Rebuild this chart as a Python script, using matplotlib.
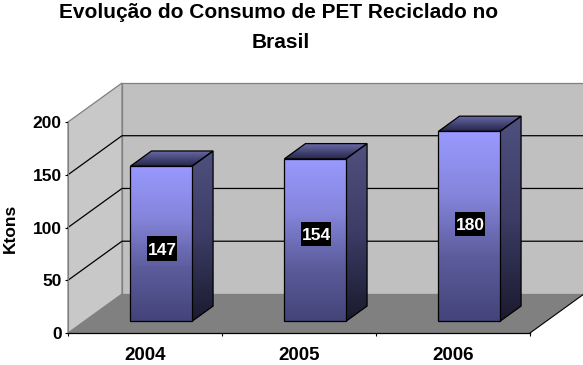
import matplotlib

matplotlib.use("Agg")

import matplotlib.pyplot as plt
import numpy as np
from matplotlib.colors import LinearSegmentedColormap
from matplotlib.patches import Polygon, Rectangle

plt.rcParams["font.family"] = ["Liberation Sans", "DejaVu Sans"]

years = ["2004", "2005", "2006"]
consumo = [147, 154, 180]
label_heights = [80, 94, 103]
y_ticks = [0, 50, 100, 150, 200]

W, H = 583, 365
# depth of the fake 3D box, in data units
DEPTH_X = 54 / 154
DEPTH_Y = 37.0
BAR_WIDTH = 0.40
BAR_D0, BAR_D1 = 0.30, 0.69
LABEL_W, LABEL_H = 0.19, 23

front_cmap = LinearSegmentedColormap.from_list("front", ["#9999ff", "#8585dc", "#5c5c9c", "#44447a"])
side_cmap = LinearSegmentedColormap.from_list("side", ["#50507f", "#3c3c66", "#1a1a2e"])
top_cmap = LinearSegmentedColormap.from_list("top", ["#6c6cac", "#26264a"])


def proj(x, y, d):
    return (x + d * DEPTH_X, y + d * DEPTH_Y)


def gradient_poly(ax, fig, pts, cmap, zorder):
    """Fill a polygon with a vertical gradient."""
    pts = np.array(pts)
    poly = Polygon(pts, closed=True, facecolor="none", edgecolor="black", linewidth=0.9, zorder=zorder + 0.1, clip_on=False)
    ax.add_patch(poly)
    grad = np.linspace(0, 1, 128).reshape(-1, 1)
    im = ax.imshow(
        grad,
        cmap=cmap,
        aspect="auto",
        origin="upper",
        extent=(pts[:, 0].min(), pts[:, 0].max(), pts[:, 1].min(), pts[:, 1].max()),
        zorder=zorder,
    )
    im.set_clip_path(poly)
    im.set_clip_box(fig.bbox)


fig = plt.figure(figsize=(W / 100, H / 100), dpi=100, facecolor="white")
ax = fig.add_axes([68 / W, 1 - 333 / H, 462 / W, 211 / H])
ax.patch.set_visible(False)

# walls and floor
wall_style = dict(closed=True, edgecolor="#808080", linewidth=0.9, clip_on=False, zorder=1)
ax.add_patch(Polygon([proj(0, 0, 1), proj(3, 0, 1), proj(3, 200, 1), proj(0, 200, 1)], facecolor="#c0c0c0", **wall_style))
ax.add_patch(Polygon([proj(0, 0, 0), proj(0, 0, 1), proj(0, 200, 1), proj(0, 200, 0)], facecolor="#c8c8c8", **wall_style))
ax.add_patch(Polygon([proj(0, 0, 0), proj(3, 0, 0), proj(3, 0, 1), proj(0, 0, 1)], facecolor="#808080", closed=True, edgecolor="none", clip_on=False, zorder=1))
x_edge, y_edge = zip(proj(3, 0, 0), proj(3, 0, 1))
ax.plot(x_edge, y_edge, color="black", linewidth=0.8, clip_on=False, zorder=1.5)

# gridlines along the left wall and the back wall
for v in y_ticks[1:-1]:
    xs, ys = zip(proj(0, v, 0), proj(0, v, 1), proj(3, v, 1))
    ax.plot(xs, ys, color="black", linewidth=0.9, clip_on=False, zorder=2)

# bars
for i, (value, lab_y) in enumerate(zip(consumo, label_heights)):
    left = i + 0.5 - BAR_WIDTH / 2
    right = left + BAR_WIDTH
    front = [proj(left, 0, BAR_D0), proj(right, 0, BAR_D0), proj(right, value, BAR_D0), proj(left, value, BAR_D0)]
    side = [proj(right, 0, BAR_D0), proj(right, 0, BAR_D1), proj(right, value, BAR_D1), proj(right, value, BAR_D0)]
    top = [proj(left, value, BAR_D0), proj(right, value, BAR_D0), proj(right, value, BAR_D1), proj(left, value, BAR_D1)]
    gradient_poly(ax, fig, side, side_cmap, 3)
    gradient_poly(ax, fig, top, top_cmap, 3)
    gradient_poly(ax, fig, front, front_cmap, 4)
    lab_x = i + 0.5 + 0.11
    ax.add_patch(Rectangle((lab_x - LABEL_W / 2, lab_y - LABEL_H / 2), LABEL_W, LABEL_H, facecolor="black", edgecolor="none", zorder=5))
    ax.text(lab_x, lab_y, str(value), color="white", fontsize=12.5, fontweight="bold", ha="center", va="center_baseline", zorder=6)

ax.set_xlim(0, 3)
ax.set_ylim(0, 200)
ax.set_xticks([0, 1, 2, 3])
ax.set_xticklabels([])
ax.set_xticks([0.5, 1.5, 2.5], labels=years, minor=True)
ax.tick_params(axis="x", which="minor", length=0, pad=10, labelsize=13.5)
ax.tick_params(axis="x", which="major", length=2.5, width=0.8, color="black")
ax.set_yticks(y_ticks)
ax.tick_params(axis="y", length=2.5, width=0.8, pad=2, labelsize=12.5)
for lab in ax.get_xticklabels(minor=True) + ax.get_yticklabels():
    lab.set_fontweight("bold")
ax.spines["top"].set_visible(False)
ax.spines["right"].set_visible(False)
ax.spines["left"].set_color("#808080")
ax.spines["bottom"].set_color("black")
ax.spines["bottom"].set_linewidth(0.9)

fig.text(10 / W, 1 - 228 / H, "Ktons", rotation=90, fontsize=12.5, fontweight="bold", ha="center", va="center")
fig.text(279 / W, 1 - 13 / H, "Evolução do Consumo de PET Reciclado no", fontsize=15, fontweight="bold", ha="center", va="center")
fig.text(281 / W, 1 - 42 / H, "Brasil", fontsize=15, fontweight="bold", ha="center", va="center")

fig.savefig("out.png", dpi=100)
plt.close(fig)
